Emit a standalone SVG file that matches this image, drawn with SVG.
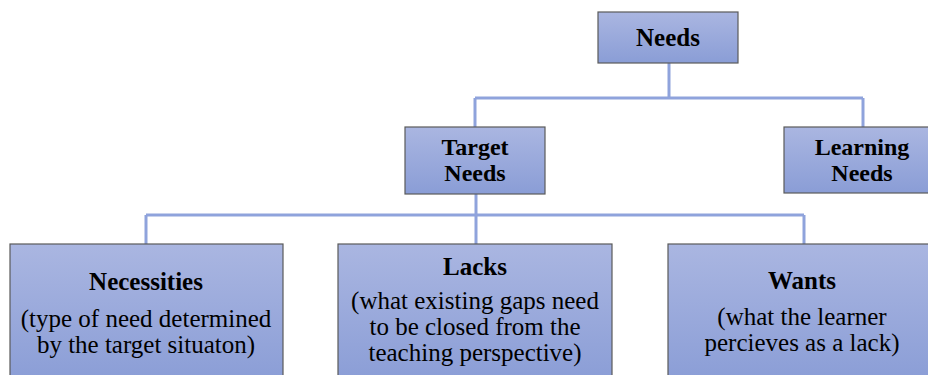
<svg xmlns="http://www.w3.org/2000/svg" width="928" height="375" viewBox="0 0 928 375">
<defs>
<linearGradient id="g" x1="0" y1="0" x2="0" y2="1">
<stop offset="0" stop-color="#aab6e1"/>
<stop offset="1" stop-color="#8a9dd6"/>
</linearGradient>
</defs>
<style>
.box{fill:url(#g);stroke:#5a5a5a;stroke-width:1.2}
.t{font-family:"Liberation Serif","Times New Roman",serif;font-size:25px;fill:#000;text-anchor:middle}
.s{font-size:24px}
.b{font-weight:bold}
.c{fill:none;stroke:#8fa3dc;stroke-width:3}
</style>
<rect width="928" height="375" fill="#fff"/>
<g id="connectors">
<path class="c" d="M669 63V98M475 98H863M475 98V127M863 98V127"/>
<path class="c" d="M476 194V244M146 215H804M146 215V244M804 215V244"/>
</g>
<g id="needs">
<rect class="box" x="598" y="12" width="140" height="51"/>
<text class="t b" x="668" y="46">Needs</text>
</g>
<g id="target-needs">
<rect class="box" x="405" y="127" width="140" height="67"/>
<text class="t b s" x="475" y="155">Target</text>
<text class="t b s" x="475" y="181">Needs</text>
</g>
<g id="learning-needs">
<rect class="box" x="784" y="127" width="150" height="66"/>
<text class="t b s" x="862" y="155">Learning</text>
<text class="t b s" x="862" y="181">Needs</text>
</g>
<g id="necessities">
<rect class="box" x="10" y="244" width="273" height="140"/>
<text class="t b" x="146" y="290">Necessities</text>
<text class="t" x="146" y="327">(type of need determined</text>
<text class="t" x="146" y="353">by the target situaton)</text>
</g>
<g id="lacks">
<rect class="box" x="338" y="244" width="274" height="140"/>
<text class="t b" x="475" y="275">Lacks</text>
<text class="t" x="475" y="309">(what existing gaps need</text>
<text class="t" x="475" y="335">to be closed from the</text>
<text class="t" x="475" y="361">teaching perspective)</text>
</g>
<g id="wants">
<rect class="box" x="668" y="244" width="270" height="140"/>
<text class="t b" x="802" y="289">Wants</text>
<text class="t" x="802" y="325">(what the learner</text>
<text class="t" x="802" y="351">percieves as a lack)</text>
</g>
</svg>
